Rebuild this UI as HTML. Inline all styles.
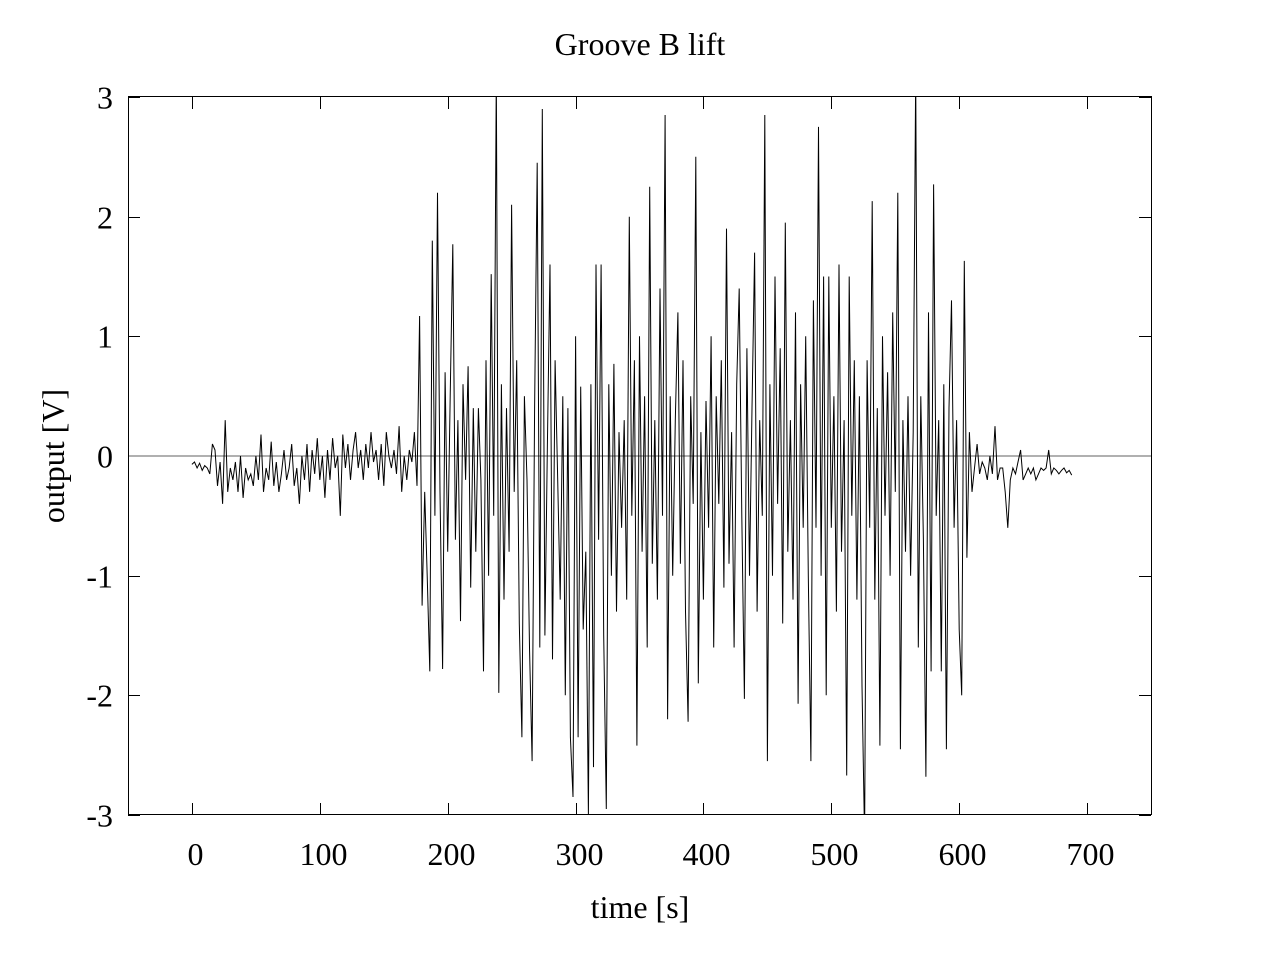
<!DOCTYPE html>
<html><head><meta charset="utf-8"><style>
html,body{margin:0;padding:0;background:#fff;}
svg{display:block;font-family:"Liberation Serif",serif;}
</style></head><body>
<svg id="chart" width="1280" height="960">
<text x="640" y="55" text-anchor="middle" font-size="32">Groove B lift</text>
<text x="640" y="918" text-anchor="middle" font-size="32">time [s]</text>
<text transform="translate(64,456) rotate(-90)" text-anchor="middle" font-size="32">output [V]</text>
<g id="axes"></g>
<defs><clipPath id="pc"><rect x="128" y="97" width="1023" height="718"/></clipPath></defs>
<line x1="128" y1="456" x2="1151" y2="456" stroke="#b0b0b0" stroke-width="2"/>
<path id="sig" fill="none" stroke="#000" stroke-width="1" clip-path="url(#pc)"/>
<rect x="128.5" y="96.5" width="1023" height="718" fill="none" stroke="#000" stroke-width="1"/>
</svg>
<script>
const xTicks=[0,100,200,300,400,500,600,700];
const yTicks=[-3,-2,-1,0,1,2,3];
const stepSeconds=2;
const quietValues=[-0.07,-0.05,-0.1,-0.06,-0.12,-0.08,-0.1,-0.15,0.1,0.05,-0.25,-0.05,-0.4,0.3,-0.3,-0.1,-0.2,-0.05,-0.3,0.0,-0.35,-0.1,-0.2,-0.15,-0.25,0.0,-0.2,0.18,-0.3,-0.1,-0.2,0.12,-0.25,-0.05,-0.3,-0.15,0.05,-0.2,-0.1,0.1,-0.25,-0.1,-0.4,0.0,-0.2,0.1,-0.3,0.05,-0.15,0.15,-0.2,0.0,-0.35,0.05,-0.2,0.15,-0.1,0.0,-0.5,0.18,-0.1,0.1,-0.2,0.05,0.2,-0.1,0.05,-0.2,0.1,-0.1,0.2,-0.05,0.05,-0.2,0.1,-0.25,0.2,0.0,-0.1,0.05,-0.15,0.25,-0.3,0.0,-0.2,0.05,-0.05,0.2,-0.25];
const activeValues=[1.17,-1.25,-0.3,-1.0,-1.8,1.8,-0.5,2.2,-0.3,-1.78,0.7,-0.8,0.5,1.77,-0.7,0.3,-1.38,0.6,-0.2,0.75,-1.1,0.4,-0.8,0.4,-0.2,-1.8,0.8,-1.0,1.52,-0.5,3.2,-1.98,0.6,-1.2,0.4,-0.8,2.1,-0.3,0.8,-1.4,-2.35,0.5,-0.2,-1.6,-2.55,0.4,2.45,-1.6,2.9,-1.5,0.1,1.6,-1.7,0.8,-0.2,-1.2,0.5,-2.0,0.4,-2.35,-2.85,1.0,-2.35,0.58,-1.45,-0.8,-3.0,0.6,-2.6,1.6,-0.7,1.6,-1.5,-2.95,0.6,-1.0,0.77,-1.3,0.2,-0.6,0.3,-1.2,2.0,-0.5,0.8,-2.42,1.0,-0.8,0.5,-1.6,2.25,-0.9,0.3,-1.2,1.4,-0.5,2.85,-2.2,0.5,-1.0,0.3,1.2,-0.9,0.8,-1.3,-2.22,0.5,-0.4,2.5,-1.9,0.2,-1.2,0.46,-0.6,1.0,-1.6,0.5,-0.4,0.8,-1.1,1.9,-0.9,0.2,-1.6,0.6,1.4,-0.5,-2.03,0.9,-1.0,0.4,1.7,-1.3,0.3,-0.5,2.85,-2.55,0.6,-1.0,1.5,-0.4,0.9,-1.4,1.95,-0.8,0.3,-1.2,1.2,-2.07,0.6,-0.6,1.0,-1.0,-2.55,1.3,-0.6,2.75,-1.0,1.5,-2.0,1.5,-0.6,0.5,-1.3,1.6,-0.8,0.3,-2.67,1.5,-0.5,0.8,-1.2,0.5,-1.92,-3.2,0.8,-0.6,2.13,-1.2,0.4,-2.42,1.0,-0.5,0.7,-1.0,1.2,-0.3,2.2,-2.45,0.3,-0.8,0.5,-1.0,0.2,3.2,-1.6,0.5,-0.7,-2.68,1.2,-1.8,2.27,-0.5,0.3,-1.8,0.6,-2.45,0.4,1.3,-0.6,0.3,-1.45,-2.0,1.63,-0.85,0.2,-0.3];
const tailValues=[-0.1,0.1,-0.15,-0.05,-0.1,-0.2,0.0,-0.15,0.25,-0.2,-0.1,-0.1,-0.3,-0.6,-0.2,-0.1,-0.15,-0.05,0.05,-0.2,-0.15,-0.1,-0.15,-0.1,-0.2,-0.15,-0.1,-0.12,-0.1,0.05,-0.15,-0.1,-0.12,-0.15,-0.12,-0.1,-0.14,-0.12,-0.16];
const values=quietValues.concat(activeValues,tailValues);
const times=values.map((v,i)=>i*stepSeconds);

const L=128,R=1151,T=97,B=815;
function xs(t){return L+(t+50)/800*(R-L);}
function ys(v){return B-(v+3)/6*(B-T);}
const ns="http://www.w3.org/2000/svg";
const axes=document.getElementById('axes');
function mk(tag,attrs){const e=document.createElementNS(ns,tag);for(const k in attrs)e.setAttribute(k,attrs[k]);return e;}
xTicks.forEach(t=>{
  const x=Math.round(xs(t))+0.5;
  const a=mk('line',{x1:x,y1:B,x2:x,y2:B-12,stroke:'#000'});
  
  
  axes.appendChild(a);
  const b=mk('line',{x1:x,y1:T,x2:x,y2:T+12,stroke:'#000'});
  
  
  axes.appendChild(b);
  const tx=mk('text',{x:x+3,y:865,'text-anchor':'middle','font-size':32});
  tx.textContent=t;
  
  
  axes.appendChild(tx);
});
yTicks.forEach(v=>{
  const y=Math.round(ys(v))+0.5;
  const a=mk('line',{x1:L,y1:y,x2:L+12,y2:y,stroke:'#000'});
  
  
  axes.appendChild(a);
  const b=mk('line',{x1:R,y1:y,x2:R-12,y2:y,stroke:'#000'});
  
  
  axes.appendChild(b);
  const tx=mk('text',{x:113,y:y+11,'text-anchor':'end','font-size':32});
  tx.textContent=v;
  
  
  axes.appendChild(tx);
});
let d='';
values.forEach((v,i)=>{d+=(i?'L':'M')+xs(times[i]).toFixed(1)+','+ys(v).toFixed(1);});
document.getElementById('sig').setAttribute('d',d);
</script>
</body></html>
